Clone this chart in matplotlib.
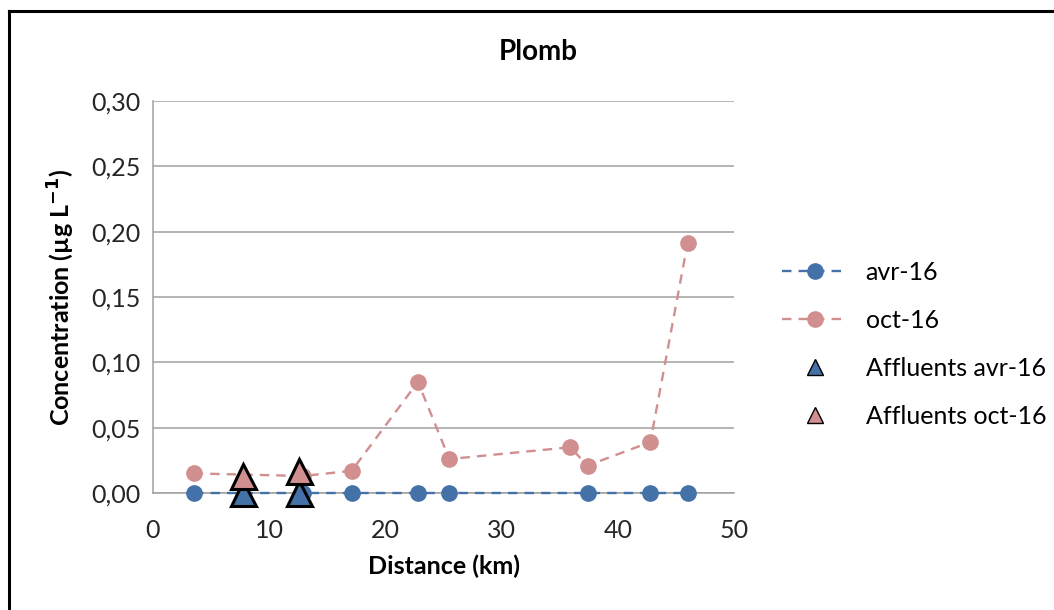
import matplotlib
matplotlib.use("Agg")
import matplotlib.pyplot as plt
from matplotlib.lines import Line2D
from matplotlib.ticker import FuncFormatter, MultipleLocator

plt.rcParams['font.family'] = ['Lato', 'DejaVu Sans']

# Main river stations
dist_avr = [3.5, 12.9, 17.1, 22.8, 25.5, 37.4, 42.8, 46.0]
conc_avr = [0.0, 0.0, 0.0, 0.0, 0.0, 0.0, 0.0, 0.0]

dist_oct = [3.5, 12.9, 17.1, 22.8, 25.5, 35.9, 37.4, 42.8, 46.0]
conc_oct = [0.015, 0.013, 0.017, 0.085, 0.026, 0.035, 0.021, 0.039, 0.191]

# Tributaries
dist_aff = [7.75, 12.6]
conc_aff_avr = [0.0, 0.0]
conc_aff_oct = [0.013, 0.017]

labels = ["avr-16", "oct-16", "Affluents avr-16", "Affluents oct-16"]

blue = "#4472a8"
pink = "#d18f8f"
grid_col = "#a0a0a0"
txt_col = "#262626"

fig = plt.figure(figsize=(10.54, 6.10), dpi=100)
ax = fig.add_axes([153/1054, 1 - 493/610, (734 - 153)/1054, (493 - 101)/610])

ax.plot(dist_avr, conc_avr, ls=(0, (4, 3)), color=blue, lw=1.7,
        marker='o', ms=11, mfc=blue, mec=blue, zorder=3, clip_on=False)
ax.plot(dist_oct, conc_oct, ls=(0, (4, 3)), color=pink, lw=1.7,
        marker='o', ms=11, mfc=pink, mec=pink, zorder=3, clip_on=False)
ax.plot(dist_aff, conc_aff_avr, ls='none', marker='^', ms=18,
        mfc=blue, mec='black', mew=2.2, zorder=4, clip_on=False)
ax.plot(dist_aff, conc_aff_oct, ls='none', marker='^', ms=18,
        mfc=pink, mec='black', mew=2.2, zorder=4, clip_on=False)

ax.set_xlim(0, 50)
ax.set_ylim(0, 0.30)
ax.xaxis.set_major_locator(MultipleLocator(10))
ax.yaxis.set_major_locator(MultipleLocator(0.05))
ax.yaxis.set_major_formatter(FuncFormatter(lambda v, p: f"{v:.2f}".replace('.', ',')))
ax.set_axisbelow(True)
ax.grid(axis='y', color=grid_col, lw=1.1)
for s in ['top', 'right']:
    ax.spines[s].set_visible(False)
for s in ['left', 'bottom']:
    ax.spines[s].set_color(grid_col)
    ax.spines[s].set_linewidth(1.1)
ax.tick_params(length=0, labelsize=18, colors=txt_col)
ax.tick_params(axis='x', pad=19)
ax.tick_params(axis='y', pad=9)

ax.set_xlabel("Distance (km)", fontsize=18, fontweight='bold', labelpad=9)
ax.set_ylabel("Concentration (µg L$^{\\mathbf{-1}}$)", fontsize=18, fontweight='bold', labelpad=10)
fig.text(538/1054, 1 - 52/610, "Plomb", fontsize=20, fontweight='bold',
         ha='center', va='center')

handles = [
    Line2D([], [], ls=(0, (4, 3)), color=blue, lw=1.7, marker='o', ms=11, mfc=blue, mec=blue),
    Line2D([], [], ls=(0, (4, 3)), color=pink, lw=1.7, marker='o', ms=11, mfc=pink, mec=pink),
    Line2D([], [], ls='none', marker='^', ms=12, mfc=blue, mec='black', mew=1),
    Line2D([], [], ls='none', marker='^', ms=12, mfc=pink, mec='black', mew=1),
]
fig.legend(handles, labels, loc='center left', bbox_to_anchor=(782/1054, 1 - 344/610),
           frameon=False, fontsize=18, handlelength=2.6, labelspacing=1.0,
           handletextpad=0.75, borderaxespad=0, borderpad=0)

# Frame lines on the left and top of the figure
fig.add_artist(Line2D([9/1054, 9/1054], [0, 1 - 11/610], transform=fig.transFigure,
                      color='black', lw=2.2))
fig.add_artist(Line2D([9/1054, 1], [1 - 11/610, 1 - 11/610], transform=fig.transFigure,
                      color='black', lw=2.2))

fig.savefig("out.png", dpi=100)
